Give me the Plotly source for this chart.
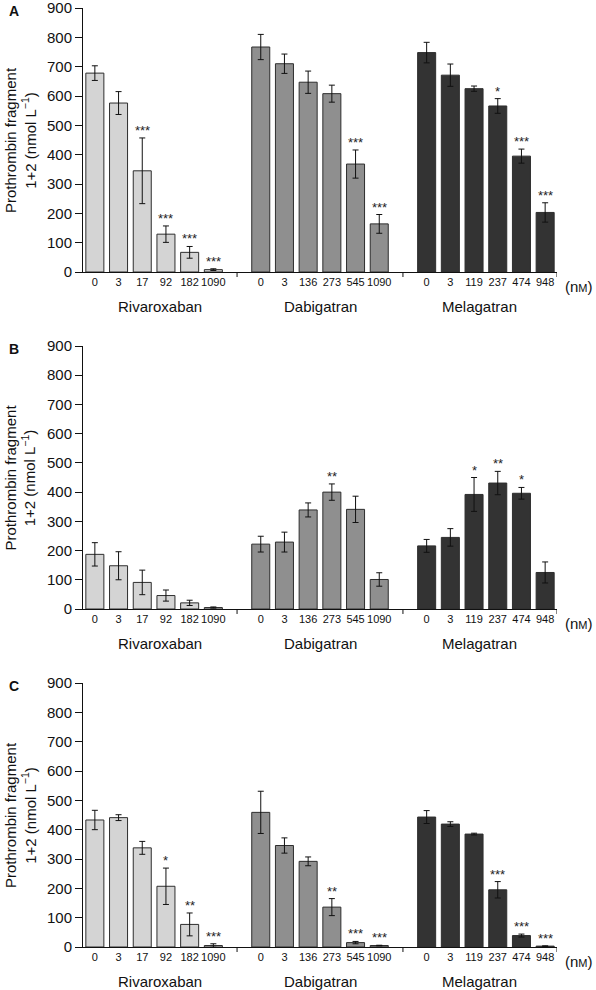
import plotly.graph_objects as go

doses_riva = ["0", "3", "17", "92", "182", "1090"]
doses_dabi = ["0", "3", "136", "273", "545", "1090"]
doses_mela = ["0", "3", "119", "237", "474", "948"]
drugs = ["Rivaroxaban", "Dabigatran", "Melagatran"]

# Panel A
A_riva = [678, 576, 345, 129, 67, 8]
A_riva_err = [25, 39, 112, 28, 20, 3]
A_dabi = [767, 710, 647, 608, 368, 164]
A_dabi_err = [43, 33, 38, 29, 48, 32]
A_mela = [748, 671, 625, 566, 395, 203]
A_mela_err = [35, 38, 9, 25, 24, 33]
A_sig_riva = ["", "", "***", "***", "***", "***"]
A_sig_dabi = ["", "", "", "", "***", "***"]
A_sig_mela = ["", "", "", "*", "***", "***"]

# Panel B
B_riva = [187, 148, 91, 46, 21, 5]
B_riva_err = [40, 48, 42, 19, 9, 2]
B_dabi = [222, 229, 339, 400, 341, 101]
B_dabi_err = [27, 34, 24, 28, 45, 23]
B_mela = [216, 245, 392, 431, 396, 125]
B_mela_err = [22, 30, 58, 40, 20, 36]
B_sig_riva = ["", "", "", "", "", ""]
B_sig_dabi = ["", "", "", "**", "", ""]
B_sig_mela = ["", "", "*", "**", "*", ""]

# Panel C
C_riva = [433, 441, 338, 207, 77, 5]
C_riva_err = [33, 10, 22, 62, 39, 6]
C_dabi = [459, 346, 292, 136, 15, 5]
C_dabi_err = [72, 26, 15, 29, 4, 1]
C_mela = [443, 419, 385, 195, 39, 3]
C_mela_err = [22, 8, 3, 28, 5, 1]
C_sig_riva = ["", "", "", "*", "**", "***"]
C_sig_dabi = ["", "", "", "**", "***", "***"]
C_sig_mela = ["", "", "", "***", "***", "***"]

yticks = [0, 100, 200, 300, 400, 500, 600, 700, 800, 900]
panel_letters = ["A", "B", "C"]

panels = [
    (A_riva, A_riva_err, A_dabi, A_dabi_err, A_mela, A_mela_err, A_sig_riva, A_sig_dabi, A_sig_mela),
    (B_riva, B_riva_err, B_dabi, B_dabi_err, B_mela, B_mela_err, B_sig_riva, B_sig_dabi, B_sig_mela),
    (C_riva, C_riva_err, C_dabi, C_dabi_err, C_mela, C_mela_err, C_sig_riva, C_sig_dabi, C_sig_mela),
]

colors = ["#d4d4d4", "#8f8f8f", "#333333"]
group_offsets = [0, 7, 14]
group_label_x = [2.75, 9.5, 16.25]

W, H = 596, 990
ml, mr, mt, mb = 83, 39, 8, 43
plot_h = H - mt - mb
panel_px = [(8, 272), (346, 609), (683, 947)]
domains = [[(947 - b) / plot_h, (947 - t) / plot_h] for (t, b) in panel_px]

fig = go.Figure()
annotations = []
shapes = []

all_doses = [doses_riva, doses_dabi, doses_mela]
tickvals = []
ticktext = []
for g, doses in enumerate(all_doses):
    for i, d in enumerate(doses):
        tickvals.append(group_offsets[g] + i)
        ticktext.append(d)

for p, data in enumerate(panels):
    vals = [data[0], data[2], data[4]]
    errs = [data[1], data[3], data[5]]
    sigs = [data[6], data[7], data[8]]
    xa = "x" if p == 0 else f"x{p+1}"
    ya = "y" if p == 0 else f"y{p+1}"
    for g in range(3):
        xs = [group_offsets[g] + i for i in range(6)]
        fig.add_trace(go.Bar(
            x=xs, y=vals[g], xaxis=xa, yaxis=ya,
            width=0.76,
            marker=dict(color=colors[g], line=dict(color="#2e2e2e", width=1)),
            error_y=dict(type="data", array=errs[g], visible=True,
                         color="#111111", thickness=1, width=3),
            showlegend=False, hoverinfo="skip",
        ))
        for i in range(6):
            if sigs[g][i]:
                annotations.append(dict(
                    x=xs[i], y=vals[g][i] + errs[g][i], xref=xa, yref=ya,
                    text=sigs[g][i], showarrow=False, yanchor="bottom",
                    yshift=-2, font=dict(size=13, color="#222222"),
                ))
        annotations.append(dict(
            x=group_label_x[g], y=0, xref=xa, yref=f"{ya} domain",
            text=drugs[g], showarrow=False, yanchor="middle", yshift=-34,
            font=dict(size=15, color="#111111"),
        ))
    for sx in [6, 13, 19.5]:
        shapes.append(dict(type="line", xref=xa, yref=f"{ya} domain",
                           x0=sx, x1=sx, y0=0, y1=-5 / 264,
                           line=dict(color="#111111", width=1)))
    annotations.append(dict(
        x=1.0, y=0, xref="paper", yref=f"{ya} domain", xanchor="left",
        text="(n<span style='font-size:11px'>M</span>)", showarrow=False,
        yanchor="middle", yshift=-14, xshift=6,
        font=dict(size=15, color="#111111"),
    ))
    annotations.append(dict(
        x=-69 / 474, y=1, xref="paper", yref=f"{ya} domain",
        text=f"<b>{panel_letters[p]}</b>", showarrow=False,
        xanchor="center", yanchor="middle", yshift=-3,
        font=dict(size=14, color="#111111"),
    ))
    annotations.append(dict(
        x=-63 / 474, y=0.5, xref="paper", yref=f"{ya} domain",
        text="Prothrombin fragment<br>1+2 (nmol L<sup>−1</sup>)",
        showarrow=False, textangle=-90, xanchor="center", yanchor="middle",
        font=dict(size=15, color="#111111"),
    ))

    axis_x = dict(
        domain=[0, 1], range=[-0.5, 19.5], anchor=ya,
        tickvals=tickvals, ticktext=ticktext, ticks="", tickangle=0,
        tickfont=dict(size=11, color="#111111"), automargin=False,
        ticklabeloverflow="allow",
        showline=True, linecolor="#111111", linewidth=1,
        showgrid=False, zeroline=False, fixedrange=True,
    )
    axis_y = dict(
        domain=domains[p], range=[0, 900], anchor=xa,
        tickvals=yticks, ticks="outside", ticklen=7, tickcolor="#111111",
        tickfont=dict(size=15, color="#111111"), automargin=False,
        ticklabeloverflow="allow",
        showline=True, linecolor="#111111", linewidth=1,
        showgrid=False, zeroline=False, fixedrange=True,
    )
    key_x = "xaxis" if p == 0 else f"xaxis{p+1}"
    key_y = "yaxis" if p == 0 else f"yaxis{p+1}"
    fig.update_layout({key_x: axis_x, key_y: axis_y})

fig.update_layout(
    width=W, height=H,
    margin=dict(l=ml, r=mr, t=mt, b=mb),
    paper_bgcolor="white", plot_bgcolor="white",
    font=dict(family="Liberation Sans, Arial, sans-serif", color="#111111"),
    annotations=annotations, shapes=shapes,
    bargap=0.2,
)

fig.write_html(
    "out.html",
    config={"displayModeBar": False},
    post_script="document.body.style.margin='0';document.body.style.overflow='hidden';",
)
